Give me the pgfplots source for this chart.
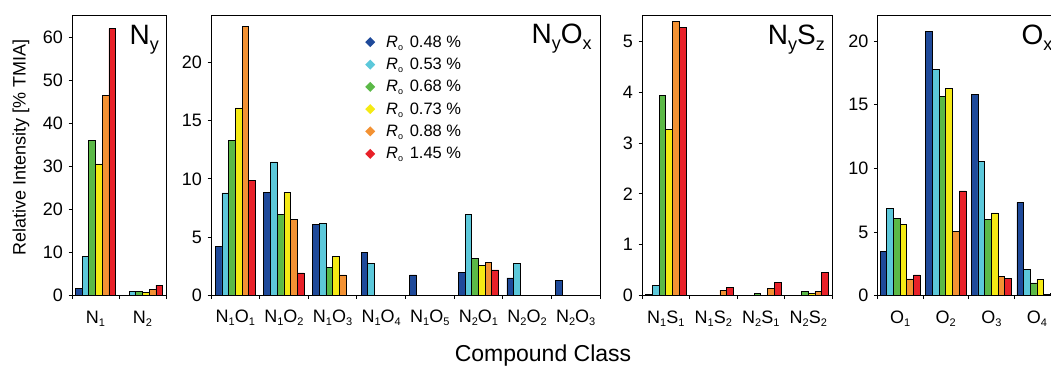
\documentclass[border=0pt]{standalone}
\usepackage{pgfplots}
\pgfplotsset{compat=1.18}
\usepackage{fontspec}
\setmainfont{Liberation Sans}
\definecolor{cA}{HTML}{1F4A9A}
\definecolor{cB}{HTML}{5CC8DA}
\definecolor{cC}{HTML}{5BB947}
\definecolor{cD}{HTML}{F5EA14}
\definecolor{cE}{HTML}{F39233}
\definecolor{cF}{HTML}{E82129}
\newcommand{\fs}[1]{\fontsize{#1}{#1}\selectfont}
% subscripts: tick labels, titles, legend
\newcommand{\tl}[1]{\raisebox{-3pt}{\fs{11}#1}}
\newcommand{\ts}[1]{\raisebox{-6pt}{\fs{18}#1}}
\newcommand{\ls}[1]{\raisebox{-3pt}{\fs{9}#1}}
\pgfplotsset{
  panel/.style={
    scale only axis, height=280pt, ymin=0,
    axis line style={line width=0.8pt, black},
    tick style={line width=0.8pt, black},
    tick align=outside, major tick length=3.5pt,
    tick pos=left,
    x tick label as interval,
    /pgf/number format/assume math mode=true,
    tick label style={font=\fs{18}},
    xticklabel style={yshift=-8pt},
    yticklabel style={xshift=-2pt},
  },
  bb/.style={ybar, bar width=6.7pt, draw=black, line width=0.7pt, forget plot},
  sA/.style={bb, fill=cA, bar shift=-16.75pt},
  sB/.style={bb, fill=cB, bar shift=-10.05pt},
  sC/.style={bb, fill=cC, bar shift=-3.35pt},
  sD/.style={bb, fill=cD, bar shift=3.35pt},
  sE/.style={bb, fill=cE, bar shift=10.05pt},
  sF/.style={bb, fill=cF, bar shift=16.75pt},
}
\newcommand{\dia}[1]{\addlegendimage{legend image code/.code={\fill[#1, draw=none] (0pt,0pt) -- (5pt,5pt) -- (10pt,0pt) -- (5pt,-5pt) -- cycle; \path[draw=none, fill=none] (0pt,0pt) -- (19pt,0pt);}}}
\begin{document}
\begin{tikzpicture}
\useasboundingbox (0,0) rectangle (1051pt,365pt);
\clip (0,0) rectangle (1051pt,365pt);

% Panel 1: N_y
\begin{axis}[panel, at={(72pt,69.3pt)}, anchor=south west, width=94pt,
  ymax=65, ytick={0,10,...,60},
  xmin=-0.5, xmax=1.5, xtick={-0.5,0.5,1.5},
  xticklabels={N\tl{1}, N\tl{2}}]
\addplot[sA] coordinates {(0,1.8)};
\addplot[sB] coordinates {(0,9.15) (1,0.93)};
\addplot[sC] coordinates {(0,36.1) (1,1.08)};
\addplot[sD] coordinates {(0,30.6) (1,0.78)};
\addplot[sE] coordinates {(0,46.5) (1,1.47)};
\addplot[sF] coordinates {(0,62.0) (1,2.48)};
\node[anchor=north east, font=\fs{28}, inner sep=0pt] at (rel axis cs:0.925,0.967) {N\ts{y}};
\end{axis}

% Panel 2: N_yO_x
\begin{axis}[panel, at={(211pt,70pt)}, anchor=south west, width=389pt,
  ymax=24.1, ytick={0,5,...,20},
  xmin=-0.5, xmax=7.5, xtick={-0.5,0.5,...,7.5},
  xticklabels={N\tl{1}O\tl{1}, N\tl{1}O\tl{2}, N\tl{1}O\tl{3}, N\tl{1}O\tl{4}, N\tl{1}O\tl{5}, N\tl{2}O\tl{1}, N\tl{2}O\tl{2}, N\tl{2}O\tl{3}},
  legend style={at={(0.396,0.934)}, anchor=north west, draw=none, fill=none, font=\fs{16.5}, row sep=5.3pt, inner sep=0pt},
  legend cell align=left]
\addplot[sA] coordinates {(0,4.17) (1,8.86) (2,6.04) (3,3.65) (4,1.73) (5,1.93) (6,1.47) (7,1.27)};
\addplot[sB] coordinates {(0,8.78) (1,11.46) (2,6.19) (3,2.73) (5,6.96) (6,2.73)};
\addplot[sC] coordinates {(0,13.3) (1,6.9) (2,2.39) (5,3.14)};
\addplot[sD] coordinates {(0,16.1) (1,8.86) (2,3.31) (5,2.56)};
\addplot[sE] coordinates {(0,23.1) (1,6.5) (2,1.73) (5,2.79)};
\addplot[sF] coordinates {(0,9.84) (1,1.9) (5,2.16)};
\dia{cA}\addlegendentry{\textit{R}\ls{o}\hspace{2pt} 0.48 \%}
\dia{cB}\addlegendentry{\textit{R}\ls{o}\hspace{2pt} 0.53 \%}
\dia{cC}\addlegendentry{\textit{R}\ls{o}\hspace{2pt} 0.68 \%}
\dia{cD}\addlegendentry{\textit{R}\ls{o}\hspace{2pt} 0.73 \%}
\dia{cE}\addlegendentry{\textit{R}\ls{o}\hspace{2pt} 0.88 \%}
\dia{cF}\addlegendentry{\textit{R}\ls{o}\hspace{2pt} 1.45 \%}
\node[anchor=north east, font=\fs{28}, inner sep=0pt] at (rel axis cs:0.979,0.967) {N\ts{y}O\ts{x}};
\end{axis}

% Panel 3: N_yS_z
\begin{axis}[panel, at={(642pt,69.3pt)}, anchor=south west, width=190pt,
  ymax=5.5, ytick={0,1,...,5},
  xmin=-0.5, xmax=3.5, xtick={-0.5,0.5,...,3.5},
  xticklabels={N\tl{1}S\tl{1}, N\tl{1}S\tl{2}, N\tl{2}S\tl{1}, N\tl{2}S\tl{2}}]
\addplot[sA] coordinates {(0,0.03) (3,0.01)};
\addplot[sB] coordinates {(0,0.2)};
\addplot[sC] coordinates {(0,3.94) (2,0.05) (3,0.085)};
\addplot[sD] coordinates {(0,3.27) (2,0.01) (3,0.04)};
\addplot[sE] coordinates {(0,5.39) (1,0.11) (2,0.14) (3,0.085)};
\addplot[sF] coordinates {(0,5.27) (1,0.16) (2,0.26) (3,0.45)};
\node[anchor=north east, font=\fs{28}, inner sep=0pt] at (rel axis cs:0.963,0.967) {N\ts{y}S\ts{z}};
\end{axis}

% Panel 4: O_x
\begin{axis}[panel, at={(877.3pt,69.3pt)}, anchor=south west, width=182.5pt,
  ymax=22, ytick={0,5,...,20},
  xmin=-0.5, xmax=3.5, xtick={-0.5,0.5,...,3.5},
  xticklabels={O\tl{1}, O\tl{2}, O\tl{3}, O\tl{4}}]
\addplot[sA] coordinates {(0,3.47) (1,20.76) (2,15.82) (3,7.34)};
\addplot[sB] coordinates {(0,6.84) (1,17.78) (2,10.57) (3,2.08)};
\addplot[sC] coordinates {(0,6.05) (1,15.67) (2,5.97) (3,1.0)};
\addplot[sD] coordinates {(0,5.63) (1,16.27) (2,6.5) (3,1.29)};
\addplot[sE] coordinates {(0,1.32) (1,5.05) (2,1.5) (3,0.13)};
\addplot[sF] coordinates {(0,1.63) (1,8.23) (2,1.34) (3,0.2)};
\node[anchor=north west, font=\fs{28}, inner sep=0pt] at (rel axis cs:0.789,0.967) {O\ts{x}};
\end{axis}

\node[rotate=90, font=\fs{18}] at (21pt,217.5pt) {Relative Intensity [\% TMIA]};
\node[anchor=base, font=\fs{23}] at (543pt,3.5pt) {Compound Class};
\end{tikzpicture}
\end{document}
